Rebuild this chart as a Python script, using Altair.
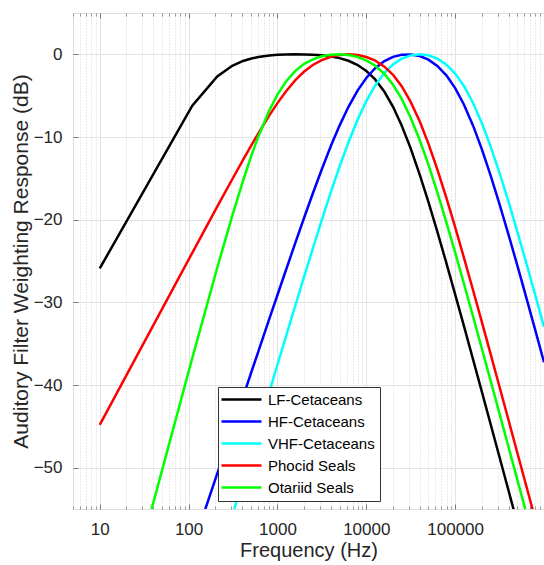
import altair as alt
import pandas as pd

SERIES = ["LF-Cetaceans", "HF-Cetaceans", "VHF-Cetaceans", "Phocid Seals", "Otariid Seals"]
COLORS = ["#000000", "#0000ff", "#00ffff", "#ff0000", "#00ff00"]

LF_FREQ = [10, 110, 210, 310, 410, 510, 610, 810, 1000, 1250, 1600, 2000, 2500, 3150, 4000, 5000,
           6300, 8000, 10000, 12500, 16000, 20000, 25000, 31500, 40000, 50000, 63000, 80000,
           100000, 125000, 160000, 200000, 250000, 315000, 400000, 500000]
LF_DB = [-25.90, -6.21, -2.68, -1.38, -0.80, -0.50, -0.32, -0.14, -0.06, -0.02, 0.00, -0.01, -0.05,
         -0.12, -0.26, -0.46, -0.78, -1.29, -2.00, -3.00, -4.53, -6.35, -8.60, -11.35, -14.57,
         -17.85, -21.45, -25.32, -29.03, -32.79, -37.01, -40.84, -44.69, -48.68, -52.82, -56.69]

HF_FREQ = [110, 210, 310, 410, 510, 610, 810, 1000, 1250, 1600, 2000, 2500, 3150, 4000, 5000,
           6300, 8000, 10000, 12500, 16000, 20000, 25000, 31500, 40000, 50000, 63000, 80000,
           100000, 125000, 160000, 200000, 250000, 315000, 400000, 500000, 630000, 800000, 1000000]
HF_DB = [-59.70, -50.72, -45.31, -41.43, -38.40, -35.93, -32.01, -29.11, -26.06, -22.72, -19.74,
         -16.83, -13.93, -11.07, -8.62, -6.35, -4.36, -2.86, -1.71, -0.82, -0.31, -0.05, -0.01,
         -0.21, -0.64, -1.40, -2.57, -4.09, -6.04, -8.69, -11.50, -14.61, -18.08, -21.86, -25.51,
         -29.38, -33.43, -37.25]

VHF_FREQ = [210, 310, 410, 510, 610, 810, 1000, 1250, 1600, 2000, 2500, 3150, 4000, 5000,
            6300, 8000, 10000, 12500, 16000, 20000, 25000, 31500, 40000, 50000, 63000, 80000,
            100000, 125000, 160000, 200000, 250000, 315000, 400000, 500000, 630000, 800000, 1000000]
VHF_DB = [-61.89, -55.81, -51.44, -48.03, -45.24, -40.82, -37.55, -34.09, -30.28, -26.87, -23.50,
          -20.07, -16.65, -13.59, -10.64, -7.88, -5.66, -3.82, -2.24, -1.22, -0.53, -0.13, 0.00,
          -0.12, -0.52, -1.27, -2.33, -3.80, -5.94, -8.33, -11.10, -14.30, -17.89, -21.41,
          -25.19, -29.18, -32.96]

PW_FREQ = [10, 110, 210, 310, 410, 510, 610, 810, 1000, 1250, 1600, 2000, 2500, 3150, 4000, 5000,
           6300, 8000, 10000, 12500, 16000, 20000, 25000, 31500, 40000, 50000, 63000, 80000,
           100000, 125000, 160000, 200000, 250000, 315000, 400000, 500000, 630000, 800000]
PW_DB = [-44.83, -24.01, -18.43, -15.11, -12.77, -10.98, -9.55, -7.39, -5.90, -4.46, -3.10, -2.08,
         -1.29, -0.69, -0.29, -0.07, 0.00, -0.09, -0.32, -0.74, -1.49, -2.48, -3.86, -5.72, -8.13,
         -10.80, -13.92, -17.43, -20.91, -24.53, -28.63, -32.40, -36.21, -40.18, -44.30, -48.16,
         -52.16, -56.30]

OW_FREQ = [10, 110, 210, 310, 410, 510, 610, 810, 1000, 1250, 1600, 2000, 2500, 3150, 4000, 5000,
           6300, 8000, 10000, 12500, 16000, 20000, 25000, 31500, 40000, 50000, 63000, 80000,
           100000, 125000, 160000, 200000, 250000, 315000, 400000, 500000, 630000, 800000]
OW_DB = [-78.29, -36.75, -25.82, -19.53, -15.29, -12.23, -9.93, -6.78, -4.87, -3.28, -1.97, -1.15,
         -0.60, -0.24, -0.05, 0.00, -0.09, -0.33, -0.73, -1.35, -2.37, -3.68, -5.39, -7.63, -10.39,
         -13.34, -16.69, -20.38, -23.97, -27.66, -31.82, -35.62, -39.45, -43.43, -47.56, -51.42,
         -55.43, -59.57]

X_MAJOR = [10, 100, 1000, 10000, 100000]
X_MINOR = [5, 6, 7, 8, 9, 20, 30, 40, 50, 60, 70, 80, 90, 200, 300, 400, 500, 600, 700, 800, 900,
           2000, 3000, 4000, 5000, 6000, 7000, 8000, 9000, 20000, 30000, 40000, 50000, 60000,
           70000, 80000, 90000, 200000, 300000, 400000, 500000, 600000, 700000, 800000, 900000]
Y_TICKS = [-50, -40, -30, -20, -10, 0]

rows = []
for name, fr, db in zip(SERIES, [LF_FREQ, HF_FREQ, VHF_FREQ, PW_FREQ, OW_FREQ],
                        [LF_DB, HF_DB, VHF_DB, PW_DB, OW_DB]):
    for f, d in zip(fr, db):
        rows.append({"series": name, "freq": f, "db": d})
df = pd.DataFrame(rows)

FONT = "Liberation Sans"
TXT = "#262626"
X_SCALE = alt.Scale(type="log", domain=[5, 1000000], nice=False)
Y_SCALE = alt.Scale(domain=[-55, 5], nice=False, zero=False)

base = alt.Chart(df)


def ghost(xaxis, yaxis):
    return base.mark_line(opacity=0, clip=True).encode(
        x=alt.X("freq:Q", scale=X_SCALE, axis=xaxis),
        y=alt.Y("db:Q", scale=Y_SCALE, axis=yaxis),
        detail="series:N",
    )


off_axis = dict(labels=False, domain=False, title=None)

g_minor = ghost(
    alt.Axis(orient="bottom", values=X_MINOR, ticks=False, grid=True, gridColor="#d4d4d4",
             gridDash=[1, 2], gridWidth=1, **off_axis),
    None,
)
t_major_b = ghost(
    alt.Axis(orient="bottom", values=X_MAJOR, ticks=True, tickSize=5, offset=-5, tickColor="#777",
             grid=False, **off_axis),
    None,
)
t_minor_b = ghost(
    alt.Axis(orient="bottom", values=X_MINOR, ticks=True, tickSize=3, offset=-3, tickColor="#999",
             grid=False, **off_axis),
    None,
)
t_major_t = ghost(
    alt.Axis(orient="top", values=X_MAJOR, ticks=True, tickSize=5, offset=-5, tickColor="#777",
             grid=False, **off_axis),
    None,
)
t_minor_t = ghost(
    alt.Axis(orient="top", values=X_MINOR, ticks=True, tickSize=3, offset=-3, tickColor="#999",
             grid=False, **off_axis),
    alt.Axis(orient="left", values=Y_TICKS, ticks=True, tickSize=5, offset=-5, tickColor="#777",
             grid=False, **off_axis),
)

lines = base.mark_line(strokeWidth=2.5, clip=True).encode(
    x=alt.X("freq:Q", scale=X_SCALE,
            axis=alt.Axis(orient="bottom", values=X_MAJOR, format="d", ticks=False, domain=False,
                          grid=True, gridColor="#e3e3e3", gridWidth=1,
                          labelFont=FONT, labelFontSize=17, labelColor=TXT, labelPadding=12,
                          title="Frequency (Hz)", titleFont=FONT, titleFontSize=20,
                          titleFontWeight="normal", titleColor=TXT, titleY=41,
                          titleBaseline="middle")),
    y=alt.Y("db:Q", scale=Y_SCALE,
            axis=alt.Axis(orient="left", values=Y_TICKS, ticks=False, domain=False,
                          grid=True, gridColor="#e3e3e3", gridWidth=1,
                          labelFont=FONT, labelFontSize=17, labelColor=TXT, labelPadding=11,
                          title="Auditory Filter Weighting Response (dB)", titleFont=FONT,
                          titleFontSize=21, titleFontWeight="normal", titleColor=TXT,
                          titleX=-52, titleY=248, titleBaseline="middle", titleAngle=270)),
    color=alt.Color("series:N", scale=alt.Scale(domain=SERIES, range=COLORS),
                    legend=alt.Legend(title=None, orient="none", legendX=145, legendY=374,
                                      symbolType="M-2.25,0H7.75", symbolSize=64,
                                      symbolStrokeWidth=2.5, labelFont=FONT, labelFontSize=15,
                                      labelColor="#000", strokeColor="#333", fillColor="white",
                                      padding=5, rowPadding=6, labelOffset=30, labelLimit=300)),
)

chart = alt.layer(g_minor, t_major_b, t_minor_b, t_major_t, t_minor_t, lines).resolve_axis(
    x="independent", y="independent"
).properties(
    width=471, height=496,
    autosize=alt.AutoSizeParams(type="none"),
    padding={"left": 73, "top": 13, "right": 0, "bottom": 56},
).configure_view(stroke="#8c8c8c", strokeWidth=1).configure(background="white")

chart.save("out.html", embed_options={"renderer": "svg", "actions": False})
